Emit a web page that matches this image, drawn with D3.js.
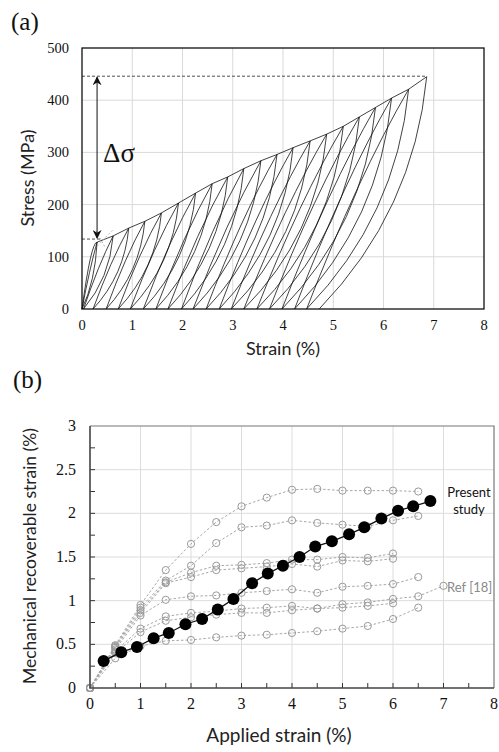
<!DOCTYPE html>
<html>
<head>
<meta charset="utf-8">
<script src="https://cdn.jsdelivr.net/npm/d3@7"></script>
<style>
  body { margin: 0; background: #fff; }
  svg { display: block; }
</style>
</head>
<body>
<div id="chart"></div>
<script>
// ---- panel (a): cyclic stress-strain ----
const peakStrain = [0.3, 0.62, 0.93, 1.25, 1.58, 1.92, 2.26, 2.59, 2.9, 3.22, 3.56, 3.88, 4.2, 4.54, 4.87, 5.2, 5.52, 5.84, 6.16, 6.5, 6.86];
const peakStress = [128, 140, 155, 168, 184, 203, 222, 240, 253, 269, 284, 296, 309, 322, 335, 350, 368, 386, 404, 421, 445];
const residualStrain = [0, 0.03, 0.22, 0.48, 0.72, 0.96, 1.22, 1.47, 1.71, 1.98, 2.21, 2.47, 2.73, 2.97, 3.22, 3.48, 3.73, 3.98, 4.23, 4.47, 4.72];
const aXTicks = [0, 1, 2, 3, 4, 5, 6, 7, 8];
const aYTicks = [0, 100, 200, 300, 400, 500];
const deltaLow = 134, deltaHigh = 446, deltaStrain = 0.3;

// ---- panel (b): recoverable strain ----
const presentApplied = [0.27, 0.62, 0.93, 1.26, 1.56, 1.89, 2.22, 2.53, 2.84, 3.21, 3.52, 3.82, 4.15, 4.46, 4.79, 5.13, 5.43, 5.77, 6.10, 6.40, 6.74];
const presentRecoverable = [0.31, 0.41, 0.47, 0.57, 0.63, 0.73, 0.79, 0.90, 1.02, 1.20, 1.31, 1.40, 1.50, 1.62, 1.68, 1.76, 1.84, 1.94, 2.03, 2.08, 2.14];
const refApplied = [0, 0.5, 1, 1.5, 2, 2.5, 3, 3.5, 4, 4.5, 5, 5.5, 6, 6.5, 7];
const refSeries = [
  [0, 0.49, 0.95, 1.35, 1.65, 1.90, 2.08, 2.18, 2.27, 2.28, 2.26, 2.26, 2.26, 2.25],
  [0, 0.48, 0.92, 1.23, 1.40, 1.66, 1.84, 1.86, 1.92, 1.89, 1.87, 1.85, 1.92, 1.97],
  [0, 0.47, 0.89, 1.21, 1.32, 1.40, 1.41, 1.43, 1.47, 1.47, 1.50, 1.49, 1.54],
  [0, 0.46, 0.86, 1.20, 1.27, 1.35, 1.37, 1.39, 1.42, 1.39, 1.46, 1.45, 1.48],
  [0, 0.44, 0.83, 1.01, 1.05, 1.06, 1.09, 1.11, 1.13, 1.09, 1.16, 1.17, 1.19, 1.27],
  [0, 0.42, 0.68, 0.82, 0.86, 0.88, 0.91, 0.92, 0.94, 0.91, 0.96, 0.98, 1.02, 1.05, 1.17],
  [0, 0.40, 0.64, 0.77, 0.81, 0.84, 0.86, 0.86, 0.89, 0.91, 0.92, 0.94, 0.97],
  [0, 0.34, 0.48, 0.54, 0.55, 0.58, 0.60, 0.61, 0.63, 0.65, 0.68, 0.71, 0.79, 0.92]
];
const bXTicks = [0, 1, 2, 3, 4, 5, 6, 7, 8];
const bYTicks = [0, 0.5, 1, 1.5, 2, 2.5, 3];

const width = 499, height = 752;
const serif = "'Liberation Serif', 'Times New Roman', serif";
const sans = "Lato, 'Open Sans', sans-serif";

const svg = d3.select("#chart").append("svg")
  .attr("width", width).attr("height", height);

// ================= panel (a) =================
const xA = d3.scaleLinear().domain([0, 8]).range([82, 484]);
const yA = d3.scaleLinear().domain([0, 500]).range([309, 48]);
const ga = svg.append("g");

// grid
ga.append("g").selectAll("line").data(aXTicks.slice(1, -1)).join("line")
  .attr("x1", d => xA(d)).attr("x2", d => xA(d))
  .attr("y1", yA(0)).attr("y2", yA(500))
  .attr("stroke", "#d9d9d9").attr("stroke-width", 1);
ga.append("g").selectAll("line").data(aYTicks.slice(1, -1)).join("line")
  .attr("x1", xA(0)).attr("x2", xA(8))
  .attr("y1", d => yA(d)).attr("y2", d => yA(d))
  .attr("stroke", "#d9d9d9").attr("stroke-width", 1);

// loops: reload from last residual to previous peak, follow envelope, unload to new residual
const loops = ga.append("g").attr("fill", "none").attr("stroke", "#111").attr("stroke-width", 0.8);
peakStrain.forEach((p, i) => {
  const s = peakStress[i];
  const lp = d3.path();
  if (i === 0) {
    lp.moveTo(xA(0), yA(0));
    lp.quadraticCurveTo(xA(p * 0.6), yA(s * 1.0), xA(p), yA(s));
  } else {
    const r0 = residualStrain[i - 1], p0 = peakStrain[i - 1], s0 = peakStress[i - 1];
    const w = p0 - r0;
    lp.moveTo(xA(r0), yA(0));
    lp.quadraticCurveTo(xA(r0 + 0.5 * w), yA(0.6 * s0), xA(p0), yA(s0));
    lp.lineTo(xA(p), yA(s));
  }
  loops.append("path").attr("d", lp.toString());
  const r = residualStrain[i];
  const w = p - r;
  const up = d3.path();
  up.moveTo(xA(p), yA(s));
  up.quadraticCurveTo(xA(p - 0.12 * w), yA(0.42 * s), xA(r), yA(0));
  loops.append("path").attr("d", up.toString());
});

// dashed reference lines
const last = peakStrain.length - 1;
ga.append("line")
  .attr("x1", xA(0)).attr("x2", xA(peakStrain[last]))
  .attr("y1", yA(deltaHigh)).attr("y2", yA(deltaHigh))
  .attr("stroke", "#222").attr("stroke-width", 0.8).attr("stroke-dasharray", "3,2");
ga.append("line")
  .attr("x1", xA(0)).attr("x2", xA(0.38))
  .attr("y1", yA(deltaLow)).attr("y2", yA(deltaLow))
  .attr("stroke", "#222").attr("stroke-width", 0.8).attr("stroke-dasharray", "3,2");
// tangent construction lines
ga.append("line")
  .attr("x1", xA(0.25)).attr("y1", yA(115))
  .attr("x2", xA(0.62)).attr("y2", yA(152))
  .attr("stroke", "#999").attr("stroke-width", 0.7).attr("stroke-dasharray", "2,2");
ga.append("line")
  .attr("x1", xA(0.28)).attr("y1", yA(150))
  .attr("x2", xA(0.46)).attr("y2", yA(118))
  .attr("stroke", "#999").attr("stroke-width", 0.7).attr("stroke-dasharray", "2,2");

// delta sigma arrow
const defs = svg.append("defs");
defs.append("marker").attr("id", "arr")
  .attr("viewBox", "0 0 10 10").attr("refX", 9).attr("refY", 5)
  .attr("markerWidth", 9).attr("markerHeight", 9).attr("markerUnits", "userSpaceOnUse")
  .attr("orient", "auto-start-reverse")
  .append("path").attr("d", "M0,0 L10,5 L0,10 L3,5 Z").attr("fill", "#111");
ga.append("line")
  .attr("x1", xA(deltaStrain)).attr("x2", xA(deltaStrain))
  .attr("y1", yA(deltaHigh) + 1).attr("y2", yA(deltaLow) - 1)
  .attr("stroke", "#111").attr("stroke-width", 1)
  .attr("marker-start", "url(#arr)").attr("marker-end", "url(#arr)");
ga.append("text")
  .attr("x", xA(deltaStrain) + 6).attr("y", yA(300) + 10)
  .attr("font-family", serif).attr("font-size", 27).attr("fill", "#111")
  .text("Δσ");

// frame
ga.append("rect")
  .attr("x", xA(0)).attr("y", yA(500))
  .attr("width", xA(8) - xA(0)).attr("height", yA(0) - yA(500))
  .attr("fill", "none").attr("stroke", "#111").attr("stroke-width", 1.3);

// tick labels
ga.append("g").selectAll("text").data(aXTicks).join("text")
  .attr("x", d => xA(d)).attr("y", 330)
  .attr("text-anchor", "middle")
  .attr("font-family", serif).attr("font-size", 14.5).attr("fill", "#111")
  .text(d => d);
ga.append("g").selectAll("text").data(aYTicks).join("text")
  .attr("x", 69).attr("y", d => yA(d) + 5)
  .attr("text-anchor", "end")
  .attr("font-family", serif).attr("font-size", 14.5).attr("fill", "#111")
  .text(d => d);

// titles
ga.append("text").attr("x", 283).attr("y", 355).attr("text-anchor", "middle")
  .attr("font-family", sans).attr("font-size", 18).attr("fill", "#222")
  .text("Strain (%)");
ga.append("text").attr("transform", `translate(34,178) rotate(-90)`)
  .attr("text-anchor", "middle")
  .attr("font-family", sans).attr("font-size", 18).attr("fill", "#222")
  .text("Stress (MPa)");
svg.append("text").attr("x", 11).attr("y", 30)
  .attr("font-family", serif).attr("font-size", 25).attr("fill", "#111")
  .text("(a)");

// ================= panel (b) =================
const xB = d3.scaleLinear().domain([0, 8]).range([90, 494]);
const yB = d3.scaleLinear().domain([0, 3]).range([688, 426]);
const gb = svg.append("g");

gb.append("g").selectAll("line").data(bXTicks.slice(1, -1)).join("line")
  .attr("x1", d => xB(d)).attr("x2", d => xB(d))
  .attr("y1", yB(0)).attr("y2", yB(3))
  .attr("stroke", "#dcdcdc").attr("stroke-width", 1);
gb.append("g").selectAll("line").data(bYTicks.slice(1, -1)).join("line")
  .attr("x1", xB(0)).attr("x2", xB(8))
  .attr("y1", d => yB(d)).attr("y2", d => yB(d))
  .attr("stroke", "#dcdcdc").attr("stroke-width", 1);

// frame: top/right lighter
gb.append("path")
  .attr("d", `M${xB(0)},${yB(3)}H${xB(8)}V${yB(0)}`)
  .attr("fill", "none").attr("stroke", "#777").attr("stroke-width", 1.2);

// minor ticks (inside)
const bxMinor = d3.range(1, 16).map(k => k * 0.5);
const byMinor = d3.range(1, 12).map(k => k * 0.25);
gb.append("g").selectAll("line").data(bxMinor).join("line")
  .attr("x1", d => xB(d)).attr("x2", d => xB(d))
  .attr("y1", yB(0)).attr("y2", yB(0) - 5)
  .attr("stroke", "#333").attr("stroke-width", 1);
gb.append("g").selectAll("line").data(byMinor).join("line")
  .attr("x1", xB(0)).attr("x2", xB(0) + 5)
  .attr("y1", d => yB(d)).attr("y2", d => yB(d))
  .attr("stroke", "#333").attr("stroke-width", 1);

// reference series
const lineB = d3.line().x(d => xB(d[0])).y(d => yB(d[1]));
const refG = gb.append("g");
refSeries.forEach(vals => {
  const pts = vals.map((v, i) => [refApplied[i], v]);
  refG.append("path").attr("d", lineB(pts))
    .attr("fill", "none").attr("stroke", "#a8a8a8").attr("stroke-width", 1)
    .attr("stroke-dasharray", "2.5,2");
  refG.append("g").selectAll("circle").data(pts).join("circle")
    .attr("cx", d => xB(d[0])).attr("cy", d => yB(d[1])).attr("r", 3.6)
    .attr("fill", "none").attr("stroke", "#9a9a9a").attr("stroke-width", 1);
});

// axes left/bottom
gb.append("path")
  .attr("d", `M${xB(0)},${yB(3)}V${yB(0)}H${xB(8)}`)
  .attr("fill", "none").attr("stroke", "#444").attr("stroke-width", 1.6);

// present study
const presPts = presentApplied.map((a, i) => [a, presentRecoverable[i]]);
gb.append("path").attr("d", lineB(presPts))
  .attr("fill", "none").attr("stroke", "#111").attr("stroke-width", 1.3);
gb.append("g").selectAll("circle").data(presPts).join("circle")
  .attr("cx", d => xB(d[0])).attr("cy", d => yB(d[1])).attr("r", 6)
  .attr("fill", "#000");

// labels
gb.append("text").attr("x", 469).attr("y", 497).attr("text-anchor", "middle")
  .attr("font-family", sans).attr("font-size", 13).attr("fill", "#111")
  .text("Present");
gb.append("text").attr("x", 469).attr("y", 514).attr("text-anchor", "middle")
  .attr("font-family", sans).attr("font-size", 13).attr("fill", "#111")
  .text("study");
gb.append("text").attr("x", 447).attr("y", 592)
  .attr("font-family", sans).attr("font-size", 13).attr("fill", "#8a8a8a")
  .text("Ref [18]");

// tick labels
gb.append("g").selectAll("text").data(bXTicks).join("text")
  .attr("x", d => xB(d)).attr("y", 709)
  .attr("text-anchor", "middle")
  .attr("font-family", serif).attr("font-size", 16).attr("fill", "#111")
  .text(d => d);
gb.append("g").selectAll("text").data(bYTicks).join("text")
  .attr("x", 76).attr("y", d => yB(d) + 5)
  .attr("text-anchor", "end")
  .attr("font-family", serif).attr("font-size", 16).attr("fill", "#111")
  .text(d => d);

gb.append("text").attr("x", 279).attr("y", 742).attr("text-anchor", "middle")
  .attr("font-family", sans).attr("font-size", 19).attr("fill", "#222")
  .text("Applied strain (%)");
gb.append("text").attr("transform", `translate(36,556) rotate(-90)`)
  .attr("text-anchor", "middle")
  .attr("font-family", sans).attr("font-size", 17.5).attr("fill", "#222")
  .text("Mechanical recoverable strain (%)");
svg.append("text").attr("x", 13).attr("y", 388)
  .attr("font-family", serif).attr("font-size", 25).attr("fill", "#111")
  .text("(b)");
</script>
</body>
</html>
